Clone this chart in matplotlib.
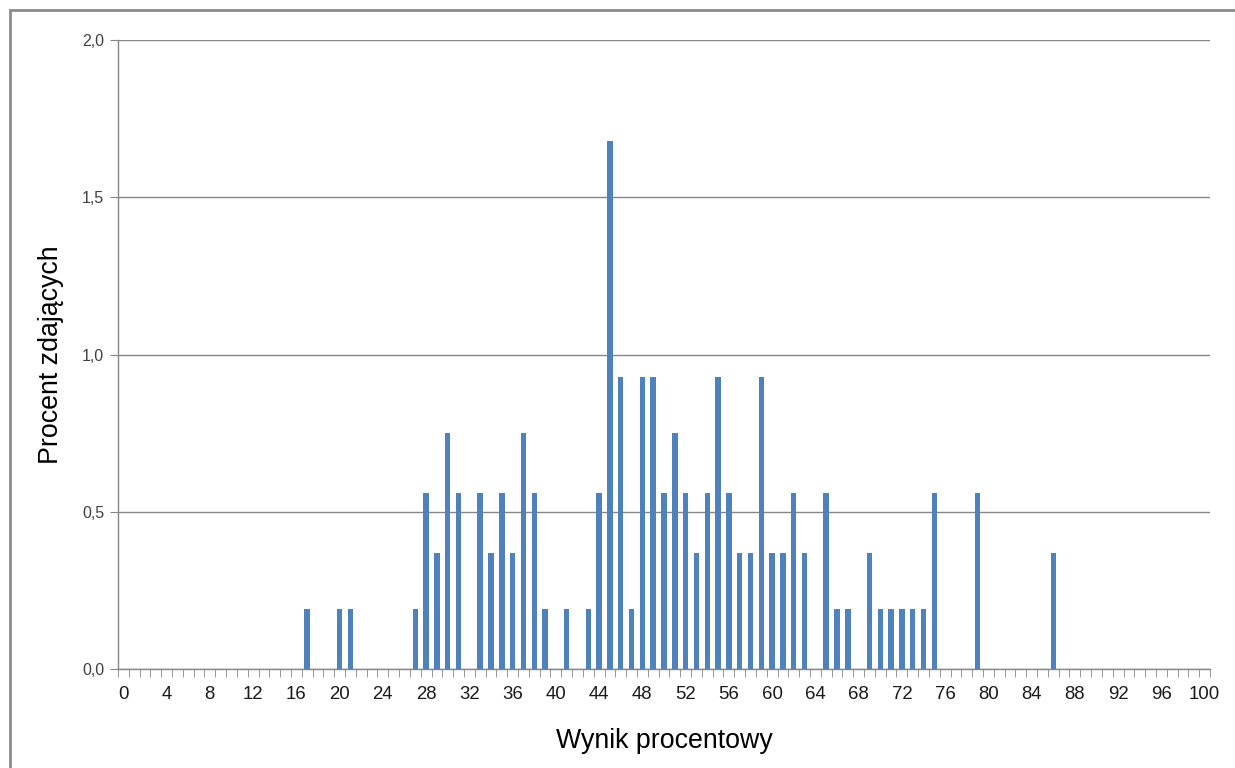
import matplotlib.pyplot as plt
import matplotlib.patches as patches
import numpy as np

plt.rcParams['font.family'] = ['Liberation Sans', 'DejaVu Sans']

# wynik procentowy -> procent zdajacych
wynik = [17, 20, 21, 27, 28, 29, 30, 31, 33, 34, 35, 36, 37, 38, 39, 41, 43,
         44, 45, 46, 47, 48, 49, 50, 51, 52, 53, 54, 55, 56, 57, 58, 59, 60,
         61, 62, 63, 65, 66, 67, 69, 70, 71, 72, 73, 74, 75, 79, 86]
procent = [0.19, 0.19, 0.19, 0.19, 0.56, 0.37, 0.75, 0.56, 0.56, 0.37, 0.56,
           0.37, 0.75, 0.56, 0.19, 0.19, 0.19,
           0.56, 1.68, 0.93, 0.19, 0.93, 0.93, 0.56, 0.75, 0.56, 0.37, 0.56,
           0.93, 0.56, 0.37, 0.37, 0.93, 0.37,
           0.37, 0.56, 0.37, 0.56, 0.19, 0.19, 0.37, 0.19, 0.19, 0.19, 0.19,
           0.19, 0.56, 0.56, 0.37]
xlabels = list(range(0, 101, 4))
yticks = [0.0, 0.5, 1.0, 1.5, 2.0]

grey = '#868686'

fig = plt.figure(figsize=(12.35, 7.68), dpi=100)
ax = fig.add_axes([0.0955, 0.1289, 0.8843, 0.819])

ax.bar(wynik, procent, width=0.5, color='#4F81BD', zorder=3)

ax.set_xlim(-0.5, 100.5)
ax.set_ylim(0, 2.0)

ax.set_yticks(yticks)
ax.set_yticklabels(['{:.1f}'.format(v).replace('.', ',') for v in yticks])
ax.yaxis.grid(True, color=grey, linewidth=1)
ax.set_axisbelow(True)

ax.set_xticks(xlabels)
ax.set_xticklabels([str(v) for v in xlabels])
ax.set_xticks(np.arange(-0.5, 101, 1), minor=True)
ax.tick_params(axis='x', which='major', length=0, pad=12, labelsize=13.4, colors='#1a1a1a')
ax.tick_params(axis='x', which='minor', length=6, color=grey, direction='out')
ax.tick_params(axis='y', length=6, color=grey, labelsize=11.5, labelcolor='#404040', pad=4)

for s in ['top', 'right']:
    ax.spines[s].set_visible(False)
for s in ['left', 'bottom']:
    ax.spines[s].set_color(grey)
    ax.spines[s].set_linewidth(1)

ax.set_xlabel('Wynik procentowy', fontsize=19.3, labelpad=18)
ax.set_ylabel('Procent zdających', fontsize=19.3, labelpad=13)

# ramka wykresu
fig.patches.append(patches.Rectangle((10 / 1235, -0.1), 1.2, 1 - 10 / 768 + 0.1,
                                     transform=fig.transFigure, fill=False,
                                     edgecolor='#8c8c8c', linewidth=2))

plt.savefig('out.png', dpi=100)
